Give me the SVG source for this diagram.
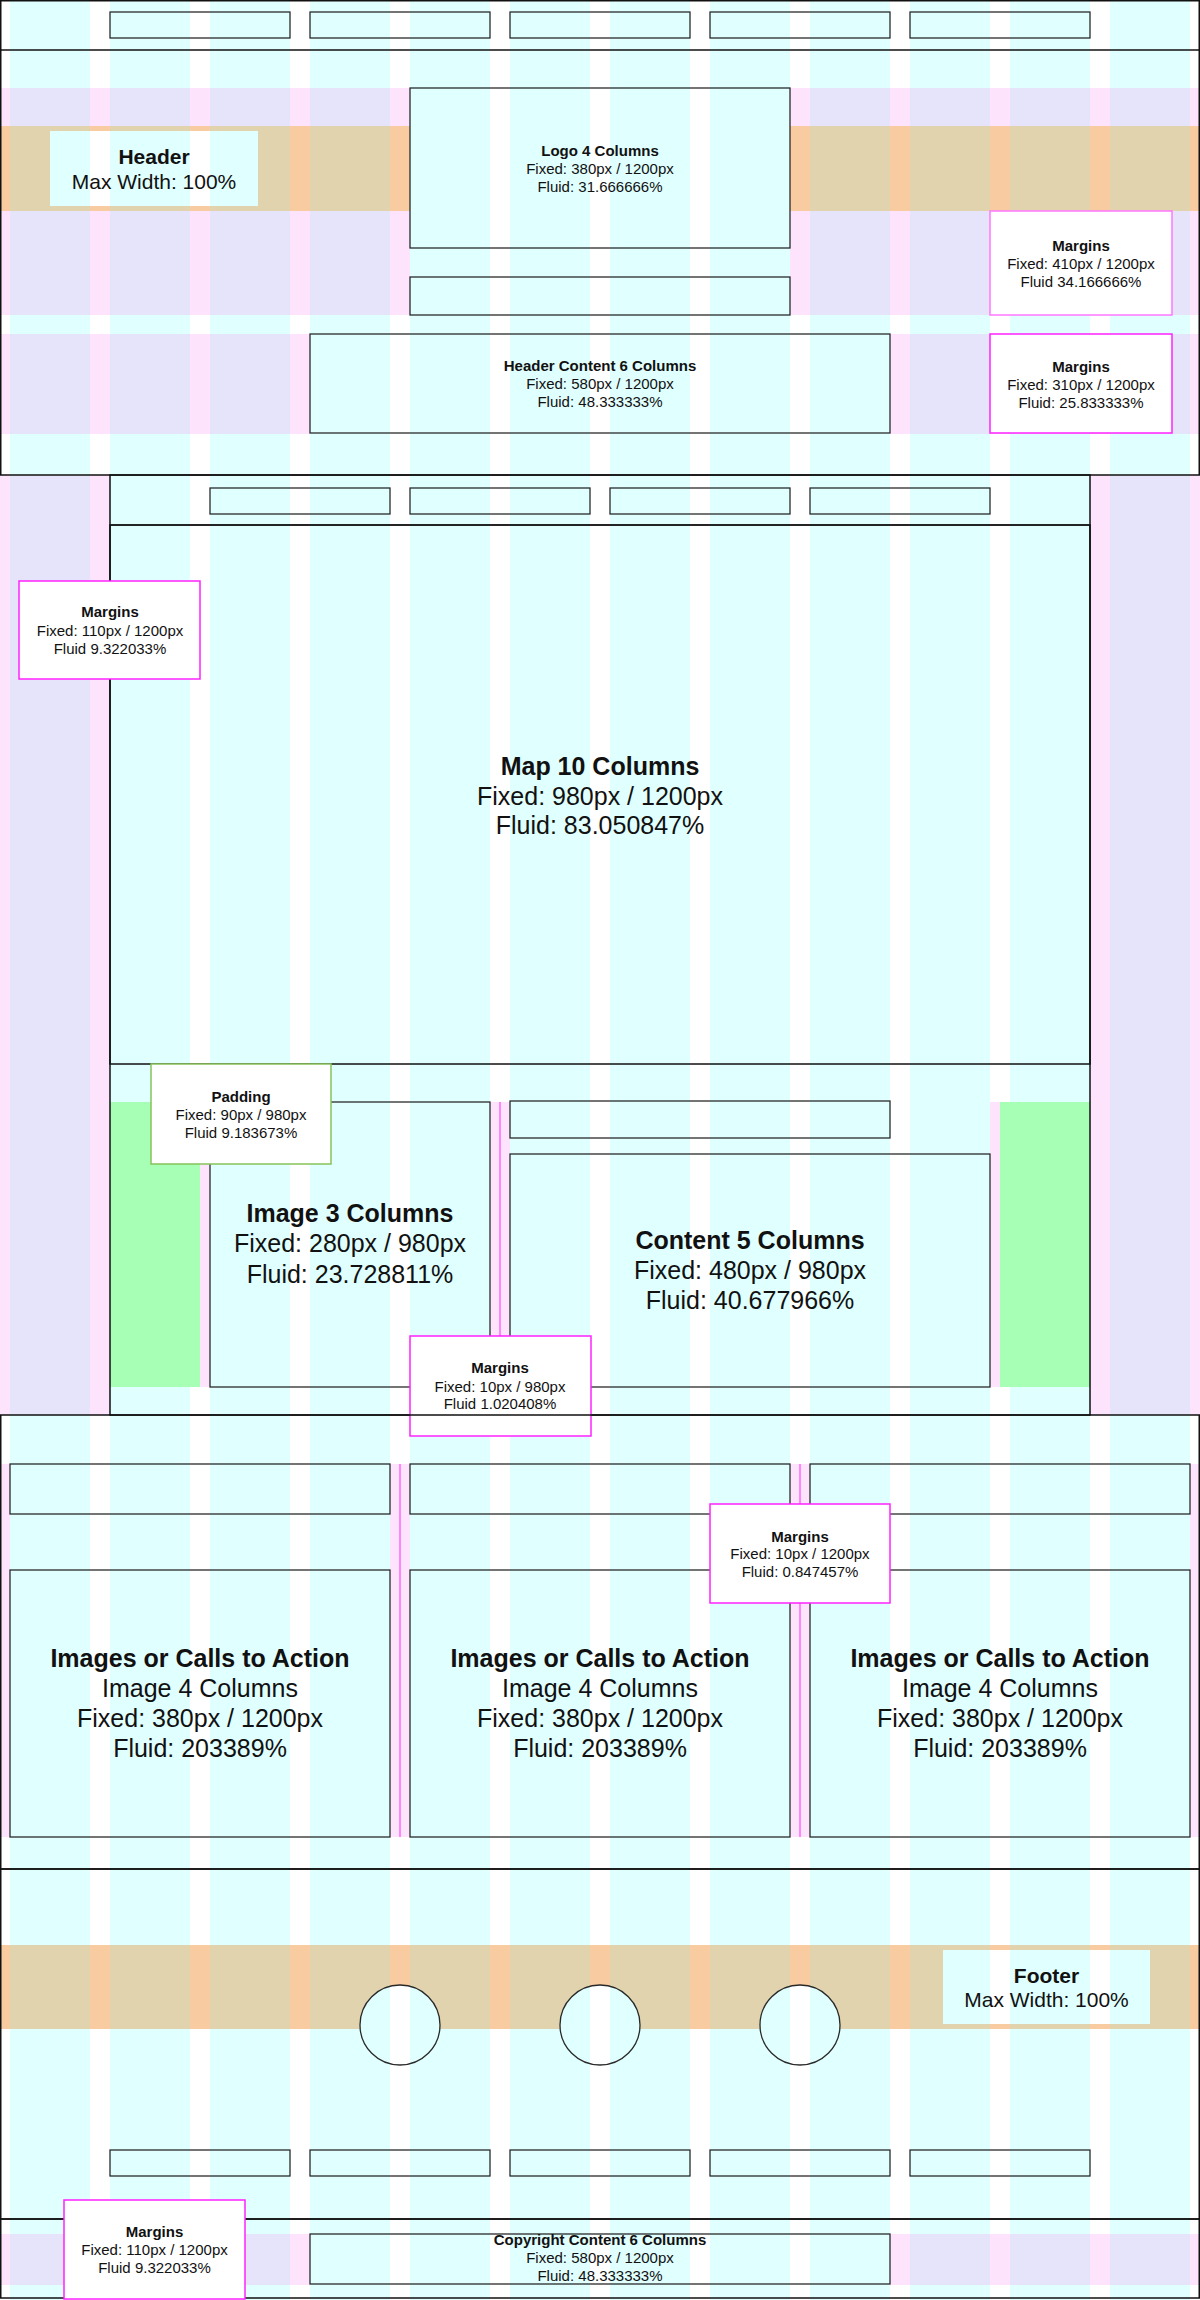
<svg xmlns="http://www.w3.org/2000/svg" width="1200" height="2300" viewBox="0 0 1200 2300">
<defs>
<pattern id="grid" patternUnits="userSpaceOnUse" x="0" y="0" width="100" height="100"><rect width="100" height="100" fill="#ffffff"/><rect x="10" width="80" height="100" fill="#e0ffff"/></pattern>
<pattern id="purple" patternUnits="userSpaceOnUse" x="0" y="0" width="100" height="100"><rect width="100" height="100" fill="#fde4fc"/><rect x="10" width="80" height="100" fill="#e6e4fb"/></pattern>
<pattern id="orange" patternUnits="userSpaceOnUse" x="0" y="0" width="100" height="100"><rect width="100" height="100" fill="#f8cba0"/><rect x="10" width="80" height="100" fill="#e0d3ae"/></pattern>
</defs>
<style>
text{font-family:"Liberation Sans",Arial,Helvetica,sans-serif;fill:#111;text-anchor:middle}
.b{font-weight:bold}
.s{font-size:15px}
.l{font-size:25px}
.h{font-size:21px}
.sec{fill:none;stroke:#111;stroke-width:1.5}
.box{fill:url(#grid);stroke:#2a2a2a;stroke-width:1.3}
.win{fill:url(#grid);stroke:none}
.mg{fill:#ffffff;stroke:#ff22ff;stroke-width:1.5}
.mgl{fill:#ffffff;stroke:#ff77ff;stroke-width:1.5}
.pad{fill:#ffffff;stroke:#86c35a;stroke-width:1.5}
.pk{fill:#fde4fc}
.gr{fill:#a6ffb4}
.ml{stroke:#ff66ff;stroke-width:1.5}
</style>
<rect width="1200" height="2300" fill="url(#grid)"/>

<g id="bands">
<rect x="0" y="88" width="410" height="227" fill="url(#purple)"/>
<rect x="790" y="88" width="410" height="227" fill="url(#purple)"/>
<rect x="0" y="126" width="410" height="85" fill="url(#orange)"/>
<rect x="790" y="126" width="410" height="85" fill="url(#orange)"/>
<rect x="0" y="334" width="310" height="100" fill="url(#purple)"/>
<rect x="890" y="334" width="310" height="100" fill="url(#purple)"/>
<rect x="0" y="475" width="110" height="940" fill="url(#purple)"/>
<rect x="1090" y="475" width="110" height="940" fill="url(#purple)"/>
<rect x="0" y="1945" width="1200" height="84" fill="url(#orange)"/>
<rect x="0" y="2234" width="310" height="51" fill="url(#purple)"/>
<rect x="890" y="2234" width="310" height="51" fill="url(#purple)"/>
<rect class="gr" x="110" y="1102" width="90" height="285"/>
<rect class="gr" x="1000" y="1102" width="90" height="285"/>
<rect class="pk" x="200" y="1102" width="10" height="285"/>
<rect class="pk" x="990" y="1102" width="10" height="285"/>
<rect class="pk" x="490" y="1102" width="20" height="285"/>
<rect class="pk" x="0" y="1464" width="10" height="373"/>
<rect class="pk" x="390" y="1464" width="20" height="373"/>
<rect class="pk" x="790" y="1464" width="20" height="373"/>
<rect class="pk" x="1190" y="1464" width="10" height="373"/>
</g>

<g id="connectors">
<line class="ml" x1="500" y1="1102" x2="500" y2="1387"/>
<line class="ml" x1="400" y1="1464" x2="400" y2="1837"/>
<line class="ml" x1="800" y1="1464" x2="800" y2="1837"/>
</g>

<g id="header-section">
<rect class="sec" x="0.75" y="0.75" width="1198.5" height="474.25"/>
<line x1="0" y1="50" x2="1200" y2="50" stroke="#111" stroke-width="1.5"/>
</g>
<g id="top-nav">
<rect class="box" x="110" y="12" width="180" height="26"/>
<rect class="box" x="310" y="12" width="180" height="26"/>
<rect class="box" x="510" y="12" width="180" height="26"/>
<rect class="box" x="710" y="12" width="180" height="26"/>
<rect class="box" x="910" y="12" width="180" height="26"/>
</g>
<g id="header-label">
<rect class="win" x="50" y="131" width="208" height="75"/>
<text class="h b" x="154" y="164">Header</text>
<text class="h" x="154" y="189">Max Width: 100%</text>
</g>
<g id="logo">
<rect class="box" x="410" y="88" width="380" height="160"/>
<text class="s b" x="600" y="156">Logo 4 Columns</text>
<text class="s" x="600" y="174">Fixed: 380px / 1200px</text>
<text class="s" x="600" y="192">Fluid: 31.666666%</text>
</g>
<g id="logo-sub">
<rect class="box" x="410" y="277" width="380" height="38"/>
</g>
<g id="header-content">
<rect class="box" x="310" y="334" width="580" height="99"/>
<text class="s b" x="600" y="371">Header Content 6 Columns</text>
<text class="s" x="600" y="389">Fixed: 580px / 1200px</text>
<text class="s" x="600" y="407">Fluid: 48.333333%</text>
</g>
<g id="margins-header-1">
<rect class="mgl" x="990" y="211" width="182" height="104"/>
<text class="s b" x="1081" y="251">Margins</text>
<text class="s" x="1081" y="269">Fixed: 410px / 1200px</text>
<text class="s" x="1081" y="287">Fluid 34.166666%</text>
</g>
<g id="margins-header-2">
<rect class="mg" x="990" y="334" width="182" height="99"/>
<text class="s b" x="1081" y="372">Margins</text>
<text class="s" x="1081" y="390">Fixed: 310px / 1200px</text>
<text class="s" x="1081" y="408">Fluid: 25.833333%</text>
</g>

<g id="main-section">
<rect class="sec" x="110" y="475" width="980" height="940"/>
<line x1="110" y1="525" x2="1090" y2="525" stroke="#333" stroke-width="1.5"/>
</g>
<g id="main-nav">
<rect class="box" x="210" y="488" width="180" height="26"/>
<rect class="box" x="410" y="488" width="180" height="26"/>
<rect class="box" x="610" y="488" width="180" height="26"/>
<rect class="box" x="810" y="488" width="180" height="26"/>
</g>
<g id="map">
<rect class="sec" x="110" y="525" width="980" height="539"/>
<text class="l b" x="600" y="775">Map 10 Columns</text>
<text class="l" x="600" y="805">Fixed: 980px / 1200px</text>
<text class="l" x="600" y="834">Fluid: 83.050847%</text>
</g>
<g id="margins-map">
<rect class="mg" x="19" y="581" width="181" height="98"/>
<text class="s b" x="110" y="617">Margins</text>
<text class="s" x="110" y="636">Fixed: 110px / 1200px</text>
<text class="s" x="110" y="654">Fluid 9.322033%</text>
</g>
<g id="image">
<rect class="box" x="210" y="1102" width="280" height="285"/>
<text class="l b" x="350" y="1222">Image 3 Columns</text>
<text class="l" x="350" y="1252">Fixed: 280px / 980px</text>
<text class="l" x="350" y="1283">Fluid: 23.728811%</text>
</g>
<g id="content-sub">
<rect class="box" x="510" y="1101" width="380" height="37"/>
</g>
<g id="content">
<rect class="box" x="510" y="1154" width="480" height="233"/>
<text class="l b" x="750" y="1249">Content 5 Columns</text>
<text class="l" x="750" y="1279">Fixed: 480px / 980px</text>
<text class="l" x="750" y="1309">Fluid: 40.677966%</text>
</g>
<g id="padding">
<rect class="pad" x="151" y="1064" width="180" height="100"/>
<text class="s b" x="241" y="1102">Padding</text>
<text class="s" x="241" y="1120">Fixed: 90px / 980px</text>
<text class="s" x="241" y="1138">Fluid 9.183673%</text>
</g>
<g id="margins-content">
<rect class="mg" x="410" y="1336" width="181" height="100"/>
<text class="s b" x="500" y="1373">Margins</text>
<text class="s" x="500" y="1392">Fixed: 10px / 980px</text>
<text class="s" x="500" y="1409">Fluid 1.020408%</text>
</g>

<g id="cta-section">
<rect class="sec" x="0.75" y="1415" width="1198.5" height="454"/>
</g>
<g id="cta-1">
<rect class="box" x="10" y="1464" width="380" height="50"/>
<rect class="box" x="10" y="1570" width="380" height="267"/>
<text class="l b" x="200" y="1667">Images or Calls to Action</text>
<text class="l" x="200" y="1697">Image 4 Columns</text>
<text class="l" x="200" y="1727">Fixed: 380px / 1200px</text>
<text class="l" x="200" y="1757">Fluid: 203389%</text>
</g>
<g id="cta-2">
<rect class="box" x="410" y="1464" width="380" height="50"/>
<rect class="box" x="410" y="1570" width="380" height="267"/>
<text class="l b" x="600" y="1667">Images or Calls to Action</text>
<text class="l" x="600" y="1697">Image 4 Columns</text>
<text class="l" x="600" y="1727">Fixed: 380px / 1200px</text>
<text class="l" x="600" y="1757">Fluid: 203389%</text>
</g>
<g id="cta-3">
<rect class="box" x="810" y="1464" width="380" height="50"/>
<rect class="box" x="810" y="1570" width="380" height="267"/>
<text class="l b" x="1000" y="1667">Images or Calls to Action</text>
<text class="l" x="1000" y="1697">Image 4 Columns</text>
<text class="l" x="1000" y="1727">Fixed: 380px / 1200px</text>
<text class="l" x="1000" y="1757">Fluid: 203389%</text>
</g>
<g id="margins-cta">
<rect class="mg" x="710" y="1504" width="180" height="99"/>
<text class="s b" x="800" y="1542">Margins</text>
<text class="s" x="800" y="1559">Fixed: 10px / 1200px</text>
<text class="s" x="800" y="1577">Fluid: 0.847457%</text>
</g>

<g id="footer-section">
<rect class="sec" x="0.75" y="1869" width="1198.5" height="350"/>
</g>
<g id="footer-circles">
<circle class="box" cx="400" cy="2025" r="40"/>
<circle class="box" cx="600" cy="2025" r="40"/>
<circle class="box" cx="800" cy="2025" r="40"/>
</g>
<g id="footer-label">
<rect class="win" x="943" y="1950" width="207" height="74"/>
<text class="h b" x="1046.5" y="1983">Footer</text>
<text class="h" x="1046.5" y="2007">Max Width: 100%</text>
</g>
<g id="footer-nav">
<rect class="box" x="110" y="2150" width="180" height="26"/>
<rect class="box" x="310" y="2150" width="180" height="26"/>
<rect class="box" x="510" y="2150" width="180" height="26"/>
<rect class="box" x="710" y="2150" width="180" height="26"/>
<rect class="box" x="910" y="2150" width="180" height="26"/>
</g>

<g id="copyright-section">
<rect class="sec" x="0.75" y="2219" width="1198.5" height="79"/>
</g>
<g id="copyright">
<rect class="box" x="310" y="2234" width="580" height="50"/>
<text class="s b" x="600" y="2245">Copyright Content 6 Columns</text>
<text class="s" x="600" y="2263">Fixed: 580px / 1200px</text>
<text class="s" x="600" y="2281">Fluid: 48.333333%</text>
</g>
<g id="margins-copyright">
<rect class="mg" x="64" y="2200" width="181" height="99"/>
<text class="s b" x="154.5" y="2237">Margins</text>
<text class="s" x="154.5" y="2255">Fixed: 110px / 1200px</text>
<text class="s" x="154.5" y="2273">Fluid 9.322033%</text>
</g>
</svg>
